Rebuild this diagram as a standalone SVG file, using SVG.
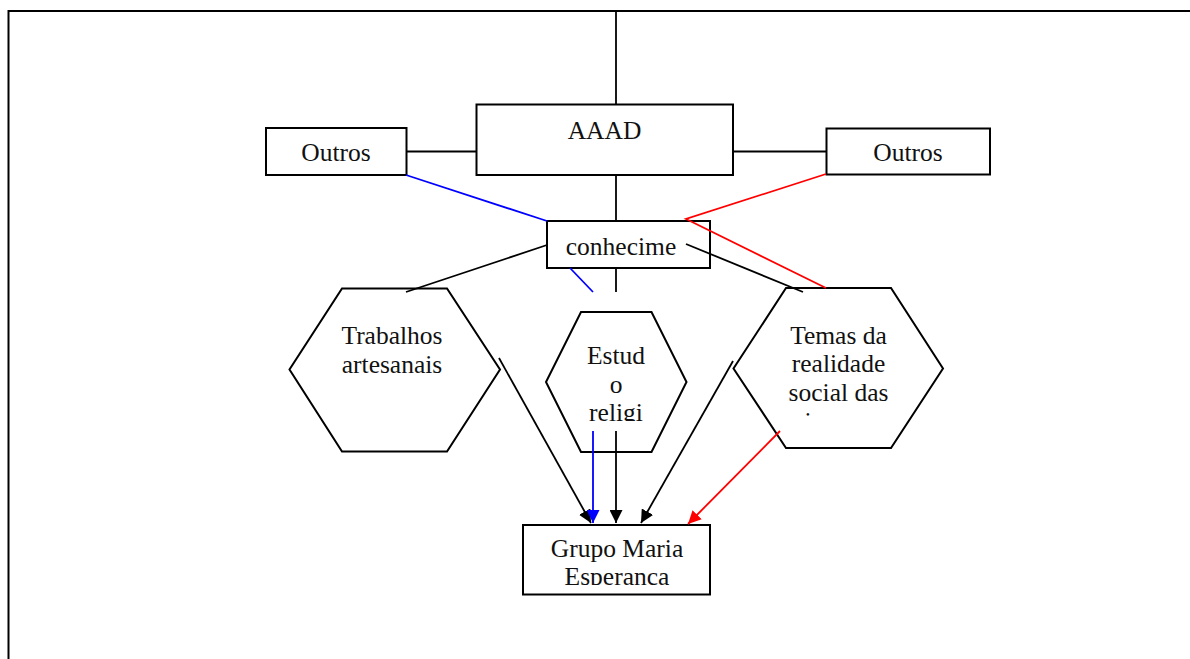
<svg xmlns="http://www.w3.org/2000/svg" width="1190" height="659" viewBox="0 0 1190 659">
<style>
.box{fill:#fff;stroke:#000;stroke-width:2}
.ln{fill:none;stroke-width:1.8}
.k{stroke:#000}
.b{stroke:#0000ff}
.r{stroke:#ff0000}
text{font-family:"Liberation Serif","Times New Roman",serif;font-size:25.5px;fill:#111;text-anchor:middle}
</style>
<defs>
<marker id="ak" viewBox="0 0 13 13" refX="13" refY="6.5" markerWidth="13" markerHeight="13" markerUnits="userSpaceOnUse" orient="auto"><path d="M0,0 L13,6.5 L0,13 Z" fill="#000"/></marker>
<marker id="ab" viewBox="0 0 13 13" refX="13" refY="6.5" markerWidth="13" markerHeight="13" markerUnits="userSpaceOnUse" orient="auto"><path d="M0,0 L13,6.5 L0,13 Z" fill="#0000ff"/></marker>
<marker id="ar" viewBox="0 0 13 13" refX="13" refY="6.5" markerWidth="13" markerHeight="13" markerUnits="userSpaceOnUse" orient="auto"><path d="M0,0 L13,6.5 L0,13 Z" fill="#ff0000"/></marker>
<clipPath id="c1"><rect x="540" y="300" width="150" height="121"/></clipPath>
<clipPath id="c2"><rect x="730" y="280" width="220" height="137"/></clipPath>
<clipPath id="c3"><rect x="523" y="525" width="187" height="60"/></clipPath>
</defs>
<rect width="1190" height="659" fill="#fff"/>
<path d="M8.5,659 L8.5,11 L1190,11" fill="none" stroke="#000" stroke-width="2"/>
<g id="aaad">
<rect class="box" x="476.5" y="104.5" width="256.5" height="70.5"/>
<text x="604.5" y="139">AAAD</text>
</g>
<g id="outros-left">
<rect class="box" x="266" y="128" width="140.5" height="47"/>
<text x="336" y="161">Outros</text>
</g>
<g id="outros-right">
<rect class="box" x="826.5" y="128.5" width="163.5" height="46"/>
<text x="908" y="161">Outros</text>
</g>
<g id="conhecimento">
<rect class="box" x="547" y="221" width="163" height="47"/>
<text x="621" y="254.5">conhecime</text>
</g>
<g id="trabalhos">
<polygon class="box" points="342,288.5 447,288.5 500,369.5 447,451.5 342,451.5 289.5,369.5"/>
<text x="392" y="344">Trabalhos</text>
<text x="392" y="373">artesanais</text>
</g>
<g id="estudo">
<polygon class="box" points="581,312 651.5,312 686.5,382 651.5,452 581,452 546,382"/>
<g clip-path="url(#c1)">
<text x="616" y="363.5">Estud</text>
<text x="616" y="392.5">o</text>
<text x="616" y="421">religi</text>
</g>
</g>
<g id="temas">
<polygon class="box" points="786,288 891,288 943,368.5 891,448 786,448 733.5,368.5"/>
<g clip-path="url(#c2)">
<text x="838.5" y="343.5">Temas da</text>
<text x="838.5" y="372">realidade</text>
<text x="838.5" y="400.5">social das</text>
<text x="808" y="430">i</text>
</g>
</g>
<g id="grupo">
<rect class="box" x="523" y="525" width="187" height="69.5"/>
<g clip-path="url(#c3)">
<text x="617" y="557">Grupo Maria</text>
<text x="617" y="584.5">Esperanca</text>
</g>
</g>
<g id="connectors">
<line class="ln k" x1="616" y1="11" x2="616" y2="104"/>
<line class="ln k" x1="406" y1="151.5" x2="476" y2="151.5"/>
<line class="ln k" x1="733" y1="151.5" x2="826" y2="151.5"/>
<line class="ln k" x1="616" y1="175" x2="616" y2="221"/>
<line class="ln k" x1="616" y1="268" x2="616" y2="292"/>
<line class="ln b" x1="406" y1="175" x2="547" y2="221"/>
<line class="ln b" x1="570" y1="268" x2="593" y2="292"/>
<line class="ln k" x1="547" y1="245" x2="406" y2="292"/>
<line class="ln k" x1="686" y1="244" x2="803" y2="292"/>
<polyline class="ln r" points="826,174 686,219 826,288"/>
<line class="ln k" x1="499" y1="358" x2="591" y2="523" marker-end="url(#ak)"/>
<line class="ln b" x1="593" y1="431" x2="593" y2="523" marker-end="url(#ab)"/>
<line class="ln k" x1="616" y1="431" x2="616" y2="523" marker-end="url(#ak)"/>
<line class="ln k" x1="733" y1="361" x2="641" y2="523" marker-end="url(#ak)"/>
<line class="ln r" x1="780" y1="431" x2="688" y2="524" marker-end="url(#ar)"/>
</g>
</svg>
